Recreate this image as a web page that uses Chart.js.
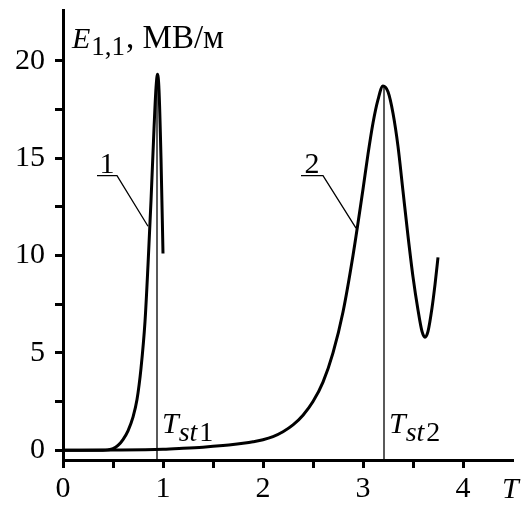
<!DOCTYPE html>
<html>
<head>
<meta charset="utf-8">
<script src="https://cdn.jsdelivr.net/npm/chart.js@4.4.0/dist/chart.umd.min.js"></script>
<style>
  html, body { margin: 0; padding: 0; background: #fff; }
</style>
</head>
<body>
<canvas id="chart" width="531" height="505"></canvas>
<script>
// Curve 1
const curve1T = [0, 0.40, 0.45, 0.50, 0.55, 0.60, 0.65, 0.70, 0.74, 0.78, 0.82, 0.85, 0.88, 0.91, 0.93, 0.945, 0.96, 0.98, 1.00];
const curve1E = [0, 0, 0.02, 0.08, 0.25, 0.55, 1.0, 1.7, 2.6, 4.2, 6.6, 9.5, 12.8, 16.5, 18.6, 19.3, 18.5, 15.0, 10.1];

// Curve 2
const curve2T = [0, 0.5, 1.0, 1.2, 1.4, 1.6, 1.7, 1.8, 1.9, 2.0, 2.1, 2.2, 2.3, 2.4, 2.5, 2.6, 2.7, 2.8, 2.9, 3.0, 3.05, 3.1, 3.15, 3.2,
                 3.25, 3.3, 3.35, 3.4, 3.45, 3.5, 3.55, 3.59, 3.62, 3.65, 3.69, 3.72, 3.75];
const curve2E = [0, 0.01, 0.05, 0.1, 0.16, 0.24, 0.29, 0.36, 0.44, 0.54, 0.7, 0.95, 1.3, 1.8, 2.5, 3.5, 5.0, 7.1, 10.0, 13.4, 15.2, 16.8, 18.0, 18.7,
                 18.4, 17.3, 15.6, 13.3, 11.0, 8.9, 7.2, 6.1, 5.8, 6.1, 7.3, 8.5, 9.9];

// Steady-state times (vertical lines) and their peak values
const tSt1 = 0.94, tSt1Top = 19.3;
const tSt2 = 3.21, tSt2Top = 18.7;

// Leader lines for curve numbers (T, E)
const leader1 = [[0.34, 14.1], [0.54, 14.1], [0.85, 11.5]];
const leader2 = [[2.38, 14.1], [2.60, 14.1], [2.93, 11.4]];

// Axis ticks
const xTickValues = [0, 0.5, 1, 1.5, 2, 2.5, 3, 3.5, 4];
const yTickValues = [0, 2.5, 5, 7.5, 10, 12.5, 15, 17.5, 20];

const FONT = '"Liberation Serif", "Times New Roman", Tinos, serif';

function toPoints(ts, es) {
  return ts.map((t, i) => ({ x: t, y: es[i] }));
}

// Draw a sequence of text pieces with different fonts / offsets
function drawRich(ctx, parts, x, y) {
  parts.forEach(p => {
    ctx.font = p.font;
    ctx.fillText(p.text, x, y + (p.dy || 0));
    x += ctx.measureText(p.text).width + (p.gap || 0);
  });
}

const textPlugin = {
  id: 'texts',
  afterDraw(chart) {
    const { ctx, chartArea, scales: { x, y } } = chart;
    ctx.save();
    ctx.fillStyle = '#000';
    ctx.textBaseline = 'alphabetic';
    ctx.textAlign = 'left';

    // axis title
    drawRich(ctx, [
      { text: 'E', font: `italic 30px ${FONT}`, gap: 1 },
      { text: '1,1', font: `27px ${FONT}`, dy: 7, gap: 1 },
      { text: ', МВ/м', font: `33px ${FONT}` }
    ], chartArea.left + 9, chartArea.top + 38);

    // T label on x axis
    ctx.font = `italic 30px ${FONT}`;
    ctx.fillText('T', chartArea.right - 11, chartArea.bottom + 38);

    // T_st labels
    [[tSt1, '1'], [tSt2, '2']].forEach(([t, n]) => {
      drawRich(ctx, [
        { text: 'T', font: `italic 30px ${FONT}` },
        { text: 'st', font: `italic 28px ${FONT}`, dy: 8, gap: 2 },
        { text: n, font: `28px ${FONT}`, dy: 8 }
      ], x.getPixelForValue(t) + 5, y.getPixelForValue(0) - 17);
    });

    // curve numbers
    ctx.font = `30px ${FONT}`;
    ctx.textAlign = 'center';
    ctx.fillText('1', x.getPixelForValue(0.44), y.getPixelForValue(14.25));
    ctx.fillText('2', x.getPixelForValue(2.49), y.getPixelForValue(14.25));
    ctx.restore();
  }
};

const thin = { showLine: true, pointRadius: 0, borderColor: '#000', borderWidth: 1.3, tension: 0 };
const thick = { showLine: true, pointRadius: 0, borderColor: '#000', borderWidth: 3, cubicInterpolationMode: 'monotone' };

new Chart(document.getElementById('chart'), {
  type: 'scatter',
  data: {
    datasets: [
      { ...thin, data: [{ x: tSt1, y: -0.5 }, { x: tSt1, y: tSt1Top }] },
      { ...thin, data: [{ x: tSt2, y: -0.5 }, { x: tSt2, y: tSt2Top }] },
      { ...thin, data: leader1.map(p => ({ x: p[0], y: p[1] })) },
      { ...thin, data: leader2.map(p => ({ x: p[0], y: p[1] })) },
      { ...thick, data: toPoints(curve1T, curve1E) },
      { ...thick, data: toPoints(curve2T, curve2E) }
    ]
  },
  options: {
    responsive: false,
    animation: false,
    devicePixelRatio: 1,
    layout: { padding: { top: 10, right: 18, left: 0, bottom: 0 } },
    plugins: { legend: { display: false }, tooltip: { enabled: false } },
    scales: {
      x: {
        type: 'linear',
        min: 0,
        max: 4.5,
        afterBuildTicks: s => { s.ticks = xTickValues.map(v => ({ value: v })); },
        afterFit: s => { s.height = 45; s.paddingLeft = 0; s.paddingRight = 0; },
        border: { display: true, color: '#000', width: 3 },
        grid: { drawOnChartArea: false, drawTicks: true, tickLength: 8, tickWidth: 3, tickColor: '#000' },
        ticks: {
          color: '#000',
          padding: 3,
          maxRotation: 0,
          font: { family: FONT, size: 30 },
          callback: v => (Number.isInteger(v) ? v : '')
        }
      },
      y: {
        type: 'linear',
        min: -0.5,
        max: 22.6,
        afterBuildTicks: s => { s.ticks = yTickValues.map(v => ({ value: v })); },
        afterFit: s => { s.width = 63; s.paddingTop = 0; s.paddingBottom = 0; },
        border: { display: true, color: '#000', width: 3 },
        grid: { drawOnChartArea: false, drawTicks: true, tickLength: 8, tickWidth: 3, tickColor: '#000' },
        ticks: {
          color: '#000',
          padding: 10,
          font: { family: FONT, size: 30 },
          callback: v => (v % 5 === 0 ? v : '')
        }
      }
    }
  },
  plugins: [textPlugin]
});
</script>
</body>
</html>
